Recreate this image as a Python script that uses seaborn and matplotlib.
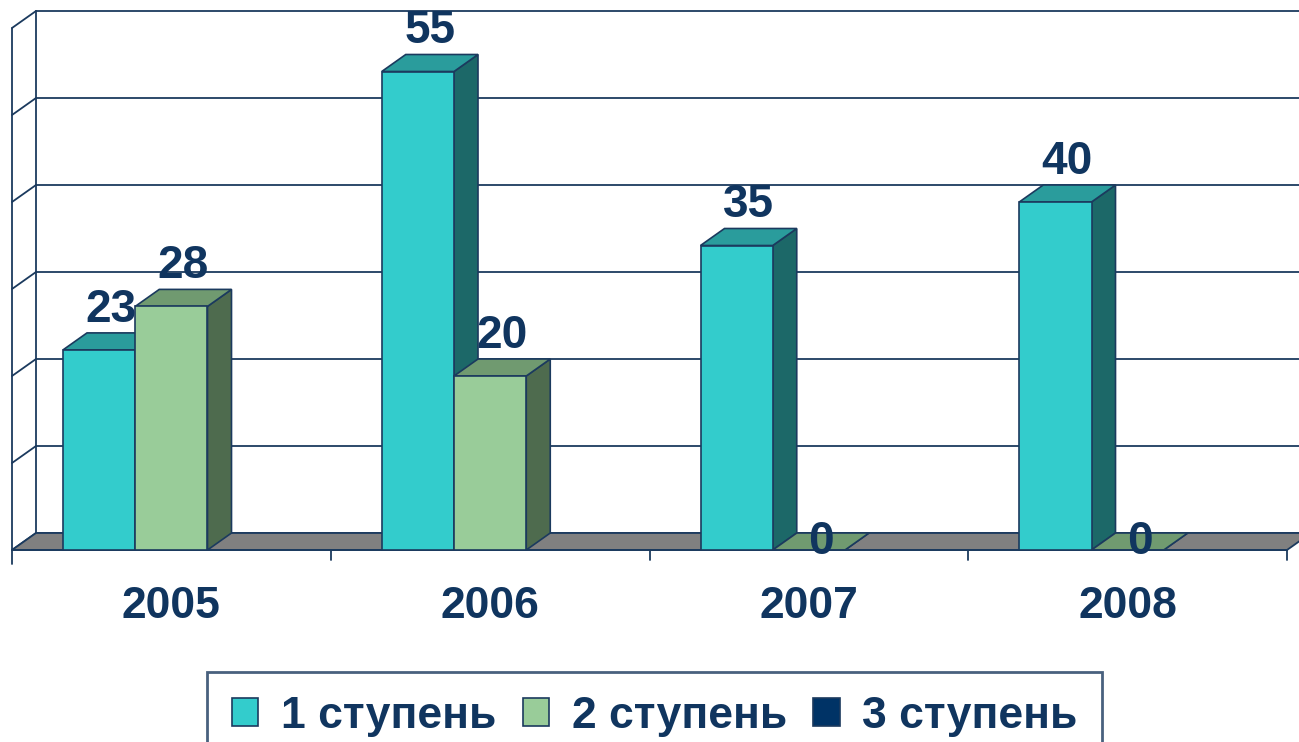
import numpy as np
import pandas as pd
import matplotlib
matplotlib.use("Agg")
import matplotlib.pyplot as plt
from matplotlib.patches import Polygon, Patch
import seaborn as sns

years = ["2005", "2006", "2007", "2008"]
series = ["1 ступень", "2 ступень", "3 ступень"]
stage1 = [23, 55, 35, 40]
stage2 = [28, 20, 0, 0]
stage3 = [np.nan, np.nan, np.nan, np.nan]   # blank cells, nothing drawn
grid_values = [0, 10, 20, 30, 40, 50, 60]

front_colors = ["#33CCCC", "#99CC99", "#003366"]
top_colors = ["#2A9C9C", "#709A70", "#002A55"]
side_colors = ["#1C6868", "#4E6B4E", "#001F40"]
navy = "#1B3A5E"
text_navy = "#10355F"

rows = []
for s, vals in zip(series, [stage1, stage2, stage3]):
    for y, v in zip(years, vals):
        rows.append({"year": y, "series": s, "value": v})
df = pd.DataFrame(rows)
df["height"] = df["value"].fillna(0)

sns.set_style("white")
plt.rcParams["font.family"] = ["Liberation Sans", "DejaVu Sans"]

fig = plt.figure(figsize=(12.99, 7.42), dpi=100)
ax = fig.add_axes([0, 0, 1, 1])
sns.barplot(data=df, x="year", y="height", hue="series", hue_order=series,
            order=years, palette=front_colors, saturation=1, width=0.68,
            errorbar=None, edgecolor=navy, linewidth=1.2, legend=False, ax=ax)

# pixel scale of the picture -> data units
px_x = 318.75
px_y = 8.7
dx = 24 / px_x
dy = 17 / px_y
ax.set_xlim(-0.5 - 12 / px_x, 3.5 + 12 / px_x)
ax.set_ylim(-192 / px_y, 550 / px_y)
ax.axis("off")

# back wall grid, left wall, floor
x_left = -0.5
x_right = 3.5
for v in grid_values:
    ax.plot([x_left + dx, x_right + 2 * dx], [v + dy, v + dy], color=navy, lw=1.3, zorder=1)
    ax.plot([x_left, x_left + dx], [v, v + dy], color=navy, lw=1.3, zorder=1)
ax.plot([x_left + dx, x_left + dx], [dy, grid_values[-1] + dy], color=navy, lw=1.3, zorder=1)
ax.plot([x_left, x_left], [-1.6, grid_values[-1]], color=navy, lw=1.3, zorder=1)
floor = Polygon([(x_left, 0), (x_right, 0), (x_right + dx, dy), (x_left + dx, dy)],
                closed=True, facecolor="#808080", edgecolor=navy, lw=1.3, zorder=2)
ax.add_patch(floor)
ax.plot([x_left, x_right], [0, 0], color=navy, lw=1.3, zorder=2)
for k in range(len(years)):
    ax.plot([k + 0.5, k + 0.5], [0, -1.2], color=navy, lw=1.3, zorder=2)

# 3D faces and value labels
for i, container in enumerate(ax.containers):
    vals = df[df["series"] == series[i]].set_index("year").loc[years, "value"].tolist()
    for bar, val in zip(container, vals):
        if pd.isna(val):
            bar.set_visible(False)
            continue
        x0 = bar.get_x()
        w = bar.get_width()
        h = bar.get_height()
        z = 10 + 2 * x0
        top = Polygon([(x0, h), (x0 + w, h), (x0 + w + dx, h + dy), (x0 + dx, h + dy)],
                      closed=True, facecolor=top_colors[i], edgecolor=navy, lw=1.2, zorder=z)
        side = Polygon([(x0 + w, 0), (x0 + w + dx, dy), (x0 + w + dx, h + dy), (x0 + w, h)],
                       closed=True, facecolor=side_colors[i], edgecolor=navy, lw=1.2, zorder=z)
        ax.add_patch(side)
        ax.add_patch(top)
        bar.set_zorder(z + 0.1)
        cx = x0 + w / 2 + dx / 2
        if val == 0:
            ax.annotate(f"{val:g}", (cx, dy / 2), ha="center", va="center",
                        fontsize=33, fontweight="bold", color=text_navy, zorder=30)
        else:
            ax.annotate(f"{val:g}", (cx, h + dy), xytext=(0, 1), textcoords="offset points",
                        ha="center", va="bottom", fontsize=33, fontweight="bold",
                        color=text_navy, zorder=30)

# category labels
for k, yr in enumerate(years):
    ax.text(k, -57 / px_y, yr, ha="center", va="center", fontsize=32,
            fontweight="bold", color=text_navy)

handles = [Patch(facecolor=c, edgecolor=navy, lw=1.2) for c in front_colors]
leg = fig.legend(handles, series, loc="upper center", bbox_to_anchor=(0.504, 0.095),
                 ncol=3, frameon=True, fancybox=False, fontsize=32, borderaxespad=0,
                 handlelength=0.6, handleheight=0.6, handletextpad=0.5,
                 columnspacing=0.6, borderpad=0.55)
leg.get_frame().set_edgecolor(navy)
leg.get_frame().set_linewidth(2)
for t in leg.get_texts():
    t.set_fontweight("bold")
    t.set_color(text_navy)

fig.savefig("out.png", dpi=100)
